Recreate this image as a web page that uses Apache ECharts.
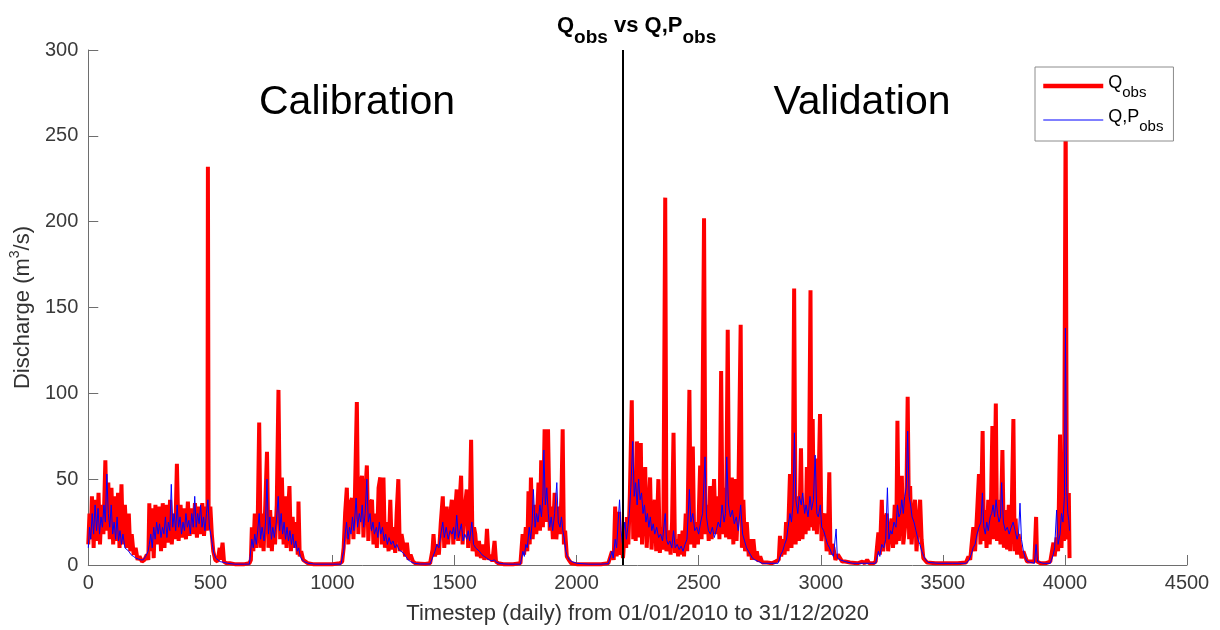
<!DOCTYPE html>
<html><head><meta charset="utf-8">
<script src="https://cdn.jsdelivr.net/npm/echarts@6/dist/echarts.min.js"></script>
<style>html,body{margin:0;padding:0;background:#fff}#c{width:1220px;height:630px}</style>
</head><body><div id="c"></div>
<script>
// ---- axis settings ----
const xMin = 0, xMax = 4500, xStep = 500;
const yMin = 0, yMax = 300, yStep = 50;
const splitDay = 2191;
const periodLabels = ['Calibration', 'Validation'];
const xTitle = 'Timestep (daily) from 01/01/2010 to 31/12/2020';

// ---- Q_obs (red), calibration period: [day, m3/s] ----
const qObsCal = [
[0,12],[5,30],[10,15],[15,40],[22,10],[28,38],[35,14],[42,42],[48,12],[55,35],[62,18],[70,61],[76,20],[82,48],[88,15],[95,45],[102,12],[110,40],[116,14],[122,42],[128,10],[136,47],[142,12],[150,35],[158,10],[166,30],[172,8],[178,18],[186,6],[194,10],[202,3],[210,5],[220,2],[230,3],[240,6],[246,3],
[250,36],[256,8],[262,33],[268,4],[275,35],[282,12],[290,34],[298,8],[305,36],[312,10],[320,35],[328,13],[335,38],[342,12],[350,30],[356,15],[363,59],[370,14],[378,35],[385,16],[392,33],[400,15],[408,37],[415,17],[422,33],[430,18],[437,36],[445,16],[452,34],[460,18],[467,36],[474,17],[482,34],[488,20],[490,232],[493,22],[500,34],[506,18],[512,8],[520,3],[530,2],[538,10],[542,3],[550,13],[556,2],[565,1],[580,1],[600,0.5],[620,0.5],[640,0.5],[660,1],
[666,3],[670,22],[676,8],[682,30],[688,10],[694,25],[700,83],[706,10],[712,30],[718,8],[725,35],[732,66],[738,10],[745,32],[752,8],[758,28],[765,12],[772,35],[779,102],[786,15],[793,51],[800,12],[806,40],[812,10],[818,30],[824,46],[830,8],[837,28],[844,10],[851,25],[858,6],[861,37],[866,5],[872,8],[880,3],[890,2],[900,1],[920,0.5],[960,0.5],[1000,0.5],[1030,1],
[1040,2],[1046,10],[1052,30],[1059,45],[1065,12],[1072,35],[1080,39],[1086,15],[1092,40],[1100,95],[1106,18],[1113,45],[1121,52],[1127,16],[1134,40],[1141,58],[1147,14],[1154,35],[1162,38],[1168,12],[1175,30],[1182,10],[1189,45],[1196,51],[1202,12],[1209,51],[1215,10],[1222,25],[1230,8],[1237,38],[1243,9],[1250,22],[1257,7],[1263,30],[1270,50],[1276,8],[1283,18],[1291,18],[1298,5],[1305,13],[1312,3],[1320,6],[1330,2],[1340,1],[1360,0.8],[1380,0.6],[1400,1],
[1405,2],[1410,9],[1414,18],[1420,5],[1428,12],[1436,6],[1444,25],[1452,40],[1458,10],[1468,34],[1474,12],[1482,28],[1489,38],[1495,12],[1502,30],[1509,44],[1515,14],[1520,35],[1527,52],[1533,12],[1540,30],[1550,44],[1556,10],[1562,28],[1568,73],[1574,8],[1580,22],[1585,18],[1592,5],[1600,14],[1608,4],[1615,12],[1622,3],[1628,8],[1633,21],[1640,3],[1648,6],[1655,2],[1664,14],[1670,2],[1680,1],[1700,0.5],[1740,0.5],[1770,1],
[1775,2],[1779,18],[1785,6],[1792,22],[1798,8],[1803,43],[1808,12],[1813,51],[1820,15],[1828,35],[1835,18],[1844,48],[1850,20],[1855,61],[1862,22],[1869,79],[1876,25],[1883,79],[1890,20],[1896,34],[1903,15],[1910,42],[1917,15],[1926,34],[1932,18],[1938,40],[1943,79],[1948,12],[1953,20],[1960,5],[1968,3],[1978,1],[2000,0.5],[2050,0.5],[2100,0.5],[2130,1],
[2137,2],[2145,8],[2152,3],[2158,34],[2164,5],[2170,20],[2174,31],[2180,6],[2186,12],[2190,4]
];

// ---- Q_obs (red), validation period ----
const qObsVal = [
[2192,8],[2198,25],[2203,10],[2206,28],[2212,12],[2218,40],[2226,96],[2232,15],[2237,31],[2242,14],[2247,72],[2253,16],[2258,40],[2263,71],[2268,12],[2275,35],[2281,57],[2287,10],[2294,30],[2301,51],[2307,9],[2313,25],[2320,38],[2326,8],[2335,50],[2341,7],[2348,22],[2355,9],[2363,214],[2368,8],[2374,18],[2379,20],[2385,6],[2391,25],[2397,77],[2403,7],[2410,15],[2416,5],[2421,18],[2427,6],[2434,20],[2440,5],[2447,30],[2453,8],[2462,102],[2468,12],[2476,69],[2482,10],[2490,25],[2497,12],[2506,58],[2512,15],[2522,202],[2528,18],[2535,35],[2541,14],[2547,46],[2553,15],[2563,50],[2570,18],[2578,40],[2585,15],[2592,113],[2598,18],[2605,45],[2612,16],[2619,137],[2625,15],[2630,40],[2636,51],[2642,12],[2649,50],[2655,14],[2662,35],[2672,140],[2677,10],[2683,38],[2690,8],[2697,25],[2705,5],[2712,15],[2718,3],[2724,15],[2732,3],[2738,8],[2745,2],[2752,5],[2760,1.5],[2780,1.5],[2800,1],[2815,2],[2822,1],
[2828,3],[2833,17],[2838,5],[2847,15],[2852,6],[2858,25],[2864,8],[2874,53],[2880,10],[2885,30],[2891,161],[2897,12],[2905,40],[2911,14],[2919,68],[2925,15],[2932,35],[2938,18],[2943,57],[2950,20],[2958,160],[2962,22],[2967,85],[2972,20],[2978,62],[2984,18],[2990,40],[2997,88],[3003,14],[3010,25],[3018,30],[3024,8],[3030,20],[3035,54],[3040,6],[3046,12],[3052,10],[3060,3],[3070,6],[3078,5],[3088,2],[3100,2],[3120,1.5],[3150,1],[3170,2],[3180,1],[3190,3],[3198,1],[3215,1],
[3225,2],[3230,10],[3236,19],[3242,6],[3250,38],[3256,8],[3263,25],[3270,30],[3276,8],[3283,20],[3290,27],[3296,10],[3303,35],[3309,12],[3314,84],[3320,14],[3326,40],[3332,52],[3338,12],[3345,22],[3350,30],[3356,98],[3362,15],[3366,46],[3372,12],[3380,30],[3386,38],[3392,8],[3400,25],[3407,38],[3413,15],[3420,4],[3427,5],[3435,1.5],[3470,1],[3520,1],[3560,1],[3595,1.5],
[3600,2],[3605,5],[3612,3],[3620,15],[3625,22],[3632,8],[3640,30],[3648,53],[3654,12],[3663,78],[3668,14],[3673,32],[3679,10],[3686,38],[3692,12],[3697,35],[3703,81],[3709,15],[3717,94],[3722,14],[3730,38],[3736,12],[3744,67],[3750,10],[3757,32],[3763,9],[3770,35],[3776,8],[3782,30],[3789,85],[3794,8],[3798,27],[3804,6],[3810,18],[3816,17],[3822,4],[3830,8],[3837,5],[3845,2],[3864,2],[3875,2],[3882,28],[3886,2],[3900,1],[3920,1],[3940,2],
[3946,3],[3953,13],[3958,5],[3966,16],[3972,8],[3980,76],[3986,10],[3991,38],[3996,14],[4003,265],[4008,15],[4012,20],[4016,42],[4019,4]
];

// ---- Q,P_obs (blue), calibration period ----
const qpCal = [
[0,10],[5,22],[10,15],[16,30],[22,18],[28,35],[34,20],[40,33],[46,18],[52,28],[58,22],[64,35],[70,25],[76,53],[82,30],[88,22],[94,35],[100,18],[106,25],[112,15],[118,28],[124,14],[130,20],[136,12],[142,18],[150,10],[158,9],[166,8],[175,6],[185,5],[195,4],[205,3.5],[215,3],[225,3],[235,5],[245,8],
[250,12],[256,18],[262,10],[268,22],[274,15],[280,25],[286,18],[292,24],[298,16],[304,22],[310,18],[316,28],[322,16],[328,25],[334,20],[340,47],[346,22],[352,30],[358,20],[364,35],[370,22],[376,28],[382,18],[388,25],[394,20],[400,30],[406,22],[412,26],[418,18],[424,30],[430,22],[436,40],[442,22],[448,30],[454,24],[460,35],[466,22],[472,28],[478,20],[484,30],[490,38],[496,22],[502,18],[508,12],[514,7],[522,4],[530,3],[540,2],[555,1.5],[570,1],[600,0.5],[640,0.5],[660,0.5],
[666,1],[670,15],[676,10],[682,18],[688,12],[694,20],[700,30],[706,15],[712,22],[720,14],[726,25],[732,50],[738,18],[744,28],[750,15],[756,22],[762,16],[770,25],[778,40],[784,20],[790,30],[796,18],[802,25],[808,15],[814,22],[820,14],[826,20],[832,12],[838,18],[844,10],[850,14],[856,8],[862,10],[868,5],[876,3],[885,2],[900,1],[930,0.5],[1000,0.5],[1035,0.5],
[1040,1],[1046,8],[1052,18],[1058,25],[1064,15],[1070,22],[1076,18],[1082,28],[1088,20],[1097,39],[1103,22],[1110,30],[1116,25],[1122,35],[1128,22],[1134,30],[1141,50],[1147,25],[1154,30],[1160,20],[1166,25],[1172,18],[1180,22],[1186,16],[1192,25],[1198,18],[1205,22],[1212,14],[1218,18],[1225,12],[1232,16],[1240,12],[1248,14],[1256,10],[1264,12],[1272,9],[1280,8],[1290,7],[1300,5],[1310,3],[1320,2],[1335,1],[1360,0.6],[1400,0.6],
[1405,1],[1412,5],[1420,8],[1428,12],[1436,10],[1444,18],[1452,25],[1458,16],[1466,22],[1474,15],[1482,20],[1490,18],[1496,22],[1502,15],[1509,29],[1516,16],[1522,20],[1528,24],[1535,14],[1542,18],[1550,15],[1556,20],[1562,14],[1571,25],[1578,12],[1586,10],[1594,9],[1602,8],[1612,6],[1622,5],[1632,4],[1642,3],[1652,2.5],[1664,3],[1672,1.5],[1690,0.8],[1720,0.5],[1750,0.5],[1770,0.5],
[1775,1],[1780,8],[1786,5],[1792,12],[1798,10],[1806,22],[1812,15],[1818,25],[1823,44],[1830,22],[1836,30],[1842,25],[1850,35],[1856,28],[1862,40],[1866,67],[1872,35],[1878,45],[1884,30],[1890,22],[1896,28],[1902,20],[1910,30],[1919,48],[1925,25],[1932,22],[1938,28],[1944,20],[1950,15],[1956,8],[1962,5],[1970,3],[1980,2],[2000,1],[2050,0.5],[2100,0.5],[2130,0.8],
[2137,1],[2145,8],[2150,4],[2158,15],[2164,10],[2170,25],[2176,38],[2182,20],[2188,12],[2190,18]
];

// ---- Q,P_obs (blue), validation period ----
const qpVal = [
[2192,18],[2198,25],[2204,15],[2210,22],[2216,30],[2222,45],[2230,72],[2236,40],[2242,48],[2248,35],[2254,50],[2260,38],[2266,42],[2272,30],[2278,35],[2284,25],[2290,30],[2296,22],[2302,28],[2308,20],[2314,24],[2320,18],[2328,22],[2336,16],[2344,18],[2352,14],[2363,30],[2368,15],[2375,12],[2382,14],[2390,10],[2397,20],[2404,10],[2412,12],[2420,9],[2428,11],[2436,8],[2444,12],[2452,15],[2462,44],[2468,25],[2476,30],[2484,20],[2492,22],[2500,18],[2508,25],[2516,30],[2526,63],[2532,28],[2540,20],[2548,18],[2556,22],[2564,16],[2572,20],[2580,25],[2588,22],[2596,35],[2604,25],[2610,30],[2615,63],[2622,35],[2630,28],[2638,32],[2646,24],[2654,28],[2662,20],[2672,35],[2680,18],[2688,14],[2696,10],[2704,8],[2712,6],[2720,4],[2730,3],[2745,2],[2760,1],[2800,1],[2825,1],
[2828,2],[2836,6],[2844,8],[2852,12],[2860,15],[2866,22],[2874,30],[2880,25],[2886,35],[2892,77],[2898,38],[2906,30],[2912,40],[2920,35],[2926,42],[2934,30],[2940,35],[2948,28],[2956,40],[2962,32],[2970,38],[2977,64],[2984,30],[2990,28],[2998,35],[3004,22],[3012,20],[3020,16],[3028,12],[3036,10],[3044,7],[3052,5],[3058,4],[3063,21],[3068,4],[3080,3],[3100,2],[3130,1],[3170,1],[3200,1],[3225,1],
[3230,2],[3236,8],[3242,5],[3250,12],[3258,10],[3266,15],[3273,45],[3279,15],[3286,20],[3292,18],[3300,25],[3308,22],[3314,35],[3320,28],[3326,30],[3332,38],[3338,30],[3344,40],[3350,45],[3356,78],[3362,40],[3368,35],[3374,28],[3382,25],[3390,20],[3398,15],[3406,12],[3414,8],[3422,5],[3430,3],[3440,1.5],[3480,1],[3540,1],[3595,1],
[3600,1],[3608,3],[3616,6],[3624,10],[3632,12],[3640,18],[3648,22],[3656,25],[3662,42],[3668,22],[3674,18],[3680,25],[3686,20],[3694,28],[3700,30],[3706,35],[3712,28],[3718,38],[3724,30],[3730,25],[3736,28],[3741,48],[3748,25],[3756,20],[3764,22],[3772,18],[3780,22],[3788,25],[3796,20],[3804,15],[3810,18],[3816,36],[3822,15],[3830,8],[3838,4],[3846,2],[3860,1.5],[3875,1],[3882,12],[3888,2],[3910,1],[3940,1],
[3946,2],[3952,6],[3958,10],[3966,32],[3972,12],[3980,18],[3986,30],[3992,25],[3998,40],[4002,138],[4007,45],[4012,30],[4016,26],[4019,20]
];

const qObs = qObsCal.concat(qObsVal);
const qp = qpCal.concat(qpVal);

const FONT = '"Liberation Sans", Arial, Helvetica, sans-serif';
const chart = echarts.init(document.getElementById('c'), null, {renderer: 'canvas'});
chart.setOption({
  animation: false,
  backgroundColor: '#ffffff',
  title: {
    text: '{q|Q}{s|obs}{q| vs Q,P}{s|obs}',
    left: 557, top: 15, padding: 0,
    textStyle: {
      rich: {
        q: {fontFamily: FONT, fontSize: 22, fontWeight: 'bold', color: '#000', lineHeight: 22, verticalAlign: 'top'},
        s: {fontFamily: FONT, fontSize: 19, fontWeight: 'bold', color: '#000', lineHeight: 32, verticalAlign: 'bottom'}
      }
    }
  },
  grid: {left: 88, right: 33, top: 50, bottom: 65, containLabel: false},
  legend: {
    data: [
      {name: 'Qobs', lineStyle: {width: 4.5}},
      {name: 'QPobs', lineStyle: {width: 1}}
    ],
    orient: 'vertical', left: 1035, top: 67,
    padding: [5, 10, 7, 6], itemGap: 6, itemWidth: 60, itemHeight: 14,
    backgroundColor: '#ffffff', borderColor: '#8c8c8c', borderWidth: 1, borderRadius: 0,
    itemStyle: {opacity: 0, borderWidth: 0},
    formatter: function (name) { return name === 'Qobs' ? '{m|Q}{s|obs}' : '{m|Q,P}{s|obs}'; },
    textStyle: {
      rich: {
        m: {fontFamily: FONT, fontSize: 18, color: '#000', lineHeight: 18, padding: [2,0,0,0], verticalAlign: 'top'},
        s: {fontFamily: FONT, fontSize: 15, color: '#000', lineHeight: 28, verticalAlign: 'bottom'}
      }
    }
  },
  graphic: [
    {type: 'text', x: 357, y: 103, z: 10, style: {text: periodLabels[0], fontFamily: FONT, fontSize: 41, fill: '#000', align: 'center', verticalAlign: 'middle', textAlign: 'center', textVerticalAlign: 'middle'}},
    {type: 'text', x: 862, y: 103, z: 10, style: {text: periodLabels[1], fontFamily: FONT, fontSize: 41, fill: '#000', align: 'center', verticalAlign: 'middle', textAlign: 'center', textVerticalAlign: 'middle'}}
  ],
  xAxis: {
    type: 'value', min: xMin, max: xMax, interval: xStep,
    name: xTitle, nameLocation: 'middle', nameGap: 38,
    nameTextStyle: {fontFamily: FONT, fontSize: 22, color: '#333'},
    axisLine: {show: true, onZero: false, lineStyle: {color: '#6e6e6e', width: 1}},
    axisTick: {show: true, inside: true, length: 10, lineStyle: {color: '#6e6e6e'}},
    axisLabel: {fontFamily: FONT, fontSize: 20, color: '#3a3a3a', margin: 8, formatter: function (v) { return String(v); }},
    splitLine: {show: false}
  },
  yAxis: {
    type: 'value', min: yMin, max: yMax, interval: yStep,
    name: '{n|Discharge (m}{p|3}{n|/s)}', nameLocation: 'middle', nameGap: 36, nameRotate: 90,
    nameTextStyle: {
      rich: {
        n: {fontFamily: FONT, fontSize: 22, color: '#333', lineHeight: 26, verticalAlign: 'bottom'},
        p: {fontFamily: FONT, fontSize: 14, color: '#333', lineHeight: 14, verticalAlign: 'top'}
      }
    },
    axisLine: {show: true, onZero: false, lineStyle: {color: '#6e6e6e', width: 1}},
    axisTick: {show: true, inside: true, length: 10, lineStyle: {color: '#6e6e6e'}},
    axisLabel: {fontFamily: FONT, fontSize: 20, color: '#3a3a3a', margin: 10, formatter: function (v) { return String(v); }},
    splitLine: {show: false}
  },
  series: [
    {name: 'Qobs', type: 'line', data: qObs, symbol: 'none', showSymbol: false, clip: true, z: 2,
     itemStyle: {color: '#ff0000'}, lineStyle: {color: '#ff0000', width: 4}},
    {name: 'QPobs', type: 'line', data: qp, symbol: 'none', showSymbol: false, clip: true, z: 3,
     itemStyle: {color: '#0000ff'}, lineStyle: {color: '#0000ff', width: 1}},
    {name: 'split', type: 'line', data: [], z: 4,
     markLine: {silent: true, symbol: 'none', label: {show: false}, animation: false,
       lineStyle: {color: '#000000', width: 2, type: 'solid'}, data: [{xAxis: splitDay}]}}
  ]
});
</script>
</body></html>
